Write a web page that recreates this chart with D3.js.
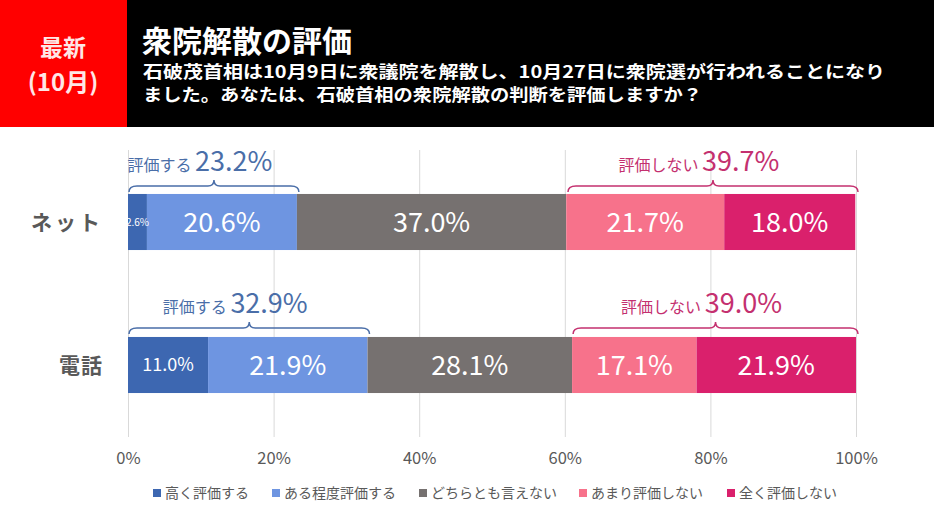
<!DOCTYPE html>
<html><head><meta charset="utf-8">
<script src="https://cdn.jsdelivr.net/npm/d3@7"></script>
<style>body{margin:0;background:#fff}svg{display:block}</style>
</head><body>
<svg id="c" width="934" height="525"></svg>
<script>
const categories = ["ネット", "電話"];
const seriesNames = ["高く評価する", "ある程度評価する", "どちらとも言えない", "あまり評価しない", "全く評価しない"];
const netValues = [2.6, 20.6, 37.0, 21.7, 18.0];
const phoneValues = [11.0, 21.9, 28.1, 17.1, 21.9];
const tickValues = [0, 20, 40, 60, 80, 100];
const colors = ["#3d67b1", "#6e95e1", "#767170", "#f7728b", "#da206c"];
const groupNames = ["評価する", "評価しない"];

const FONT = "'Noto Sans CJK JP', 'Noto Sans', sans-serif";
const svg = d3.select("#c");

// Header
svg.append("rect").attr("x",0).attr("y",0).attr("width",934).attr("height",127).attr("fill","#000");
svg.append("rect").attr("x",0).attr("y",0).attr("width",127).attr("height",127).attr("fill","#ff0000");
svg.append("text").attr("x",63).attr("y",56).attr("text-anchor","middle").attr("fill","#ffe6e6")
  .attr("font-family",FONT).attr("font-weight","bold").attr("font-size",23).text("最新");
svg.append("text").attr("x",63).attr("y",91).attr("text-anchor","middle").attr("fill","#ffe6e6")
  .attr("font-family",FONT).attr("font-weight","bold").attr("font-size",24).text("(10月)");
svg.append("text").attr("x",142).attr("y",52).attr("fill","#fff")
  .attr("font-family",FONT).attr("font-weight","bold").attr("font-size",30).text("衆院解散の評価");
svg.append("text").attr("x",143).attr("y",78).attr("fill","#fff")
  .attr("font-family",FONT).attr("font-weight","bold").attr("font-size",17)
  .attr("textLength",742).attr("lengthAdjust","spacingAndGlyphs")
  .text("石破茂首相は10月9日に衆議院を解散し、10月27日に衆院選が行われることになり");
svg.append("text").attr("x",143).attr("y",101).attr("fill","#fff")
  .attr("font-family",FONT).attr("font-weight","bold").attr("font-size",17)
  .attr("textLength",559).attr("lengthAdjust","spacingAndGlyphs")
  .text("ました。あなたは、石破首相の衆院解散の判断を評価しますか？");

// Scales
const x = d3.scaleLinear().domain([0,100]).range([128,856]);
const y = d3.scaleBand().domain(categories).range([150,437]).paddingInner(0.608).paddingOuter(0.3075);

// Gridlines
svg.append("g").selectAll("line").data(tickValues).join("line")
  .attr("x1",d=>x(d)+0.5).attr("x2",d=>x(d)+0.5).attr("y1",150).attr("y2",437)
  .attr("stroke","#d9d9d9").attr("stroke-width",1);

// Axis labels
const axis = d3.axisBottom(x).tickValues(tickValues).tickFormat(d=>d+"%").tickSize(0);
const ag = svg.append("g").attr("transform","translate(0,446)").call(axis);
ag.select(".domain").remove();
ag.selectAll("text").attr("font-family",FONT).attr("font-size",16.5).attr("fill","#595959").attr("dy","0.9em");

// Category labels
svg.append("g").selectAll("text").data(categories).join("text")
  .attr("x",103).attr("y",d=>y(d)+y.bandwidth()/2).attr("dy","0.36em")
  .attr("text-anchor","end").attr("font-family",FONT).attr("font-size",21).attr("font-weight","bold")
  .attr("letter-spacing",d=>d.length>2?3:1).attr("fill","#595959").text(d=>d);

// Bars
const rows = [netValues, phoneValues];
rows.forEach((vals, ri) => {
  const cat = categories[ri];
  let cum = 0;
  const segs = vals.map((v,i)=>{ const s={v,i,x0:cum,x1:cum+v}; cum+=v; return s; });
  const g = svg.append("g");
  g.selectAll("rect").data(segs).join("rect")
    .attr("x",d=>x(d.x0)).attr("width",d=>x(d.x1)-x(d.x0))
    .attr("y",y(cat)).attr("height",y.bandwidth()).attr("fill",d=>colors[d.i]);
  g.selectAll("text").data(segs).join("text")
    .attr("x",d=>(x(d.x0)+x(d.x1))/2).attr("y",y(cat)+y.bandwidth()/2).attr("dy","0.36em")
    .attr("text-anchor","middle").attr("fill","#fff").attr("font-family",FONT)
    .attr("font-size",d=>{const w=x(d.x1)-x(d.x0); return w<30?10:(w<100?18:27);})
    .text(d=>d.v.toFixed(1)+"%");

  // Brackets
  const posTotal = vals[0]+vals[1];
  const negTotal = vals[3]+vals[4];
  const groups = [
    {name:groupNames[0], total:posTotal, a:0, b:posTotal, col:"#4a6ea8"},
    {name:groupNames[1], total:negTotal, a:100-negTotal, b:100, col:"#c4306f"}
  ];
  const by = y(cat) - (ri===0?8:9);
  groups.forEach((gr,gi)=>{
    const xa = x(gr.a)+1, xb = x(gr.b)+2, mid=(xa+xb)/2;
    const p = d3.path();
    p.moveTo(xa, by+6);
    p.quadraticCurveTo(xa, by, xa+8, by);
    p.lineTo(mid-6, by);
    p.quadraticCurveTo(mid, by, mid, by-6);
    p.quadraticCurveTo(mid, by, mid+6, by);
    p.lineTo(xb-8, by);
    p.quadraticCurveTo(xb, by, xb, by+6);
    svg.append("path").attr("d",p.toString()).attr("fill","none").attr("stroke",gr.col).attr("stroke-width",1.5);
    const t = svg.append("text").attr("x",mid-14).attr("y",by-15).attr("text-anchor","middle")
      .attr("font-family",FONT).attr("fill",gr.col);
    t.append("tspan").attr("font-size",16).text(gr.name+" ");
    t.append("tspan").attr("font-size",27).text(gr.total.toFixed(1)+"%");
  });
});

// Legend
const legendX = [153, 272, 419, 579, 727];
const lg = svg.append("g").selectAll("g").data(seriesNames).join("g")
  .attr("transform",(d,i)=>`translate(${legendX[i]},493)`);
lg.append("rect").attr("x",0).attr("y",-4).attr("width",8).attr("height",8).attr("fill",(d,i)=>colors[i]);
lg.append("text").attr("x",12).attr("y",0).attr("dy","0.36em").attr("font-family",FONT)
  .attr("font-size",14).attr("fill","#595959").text(d=>d);
</script>
</body></html>
